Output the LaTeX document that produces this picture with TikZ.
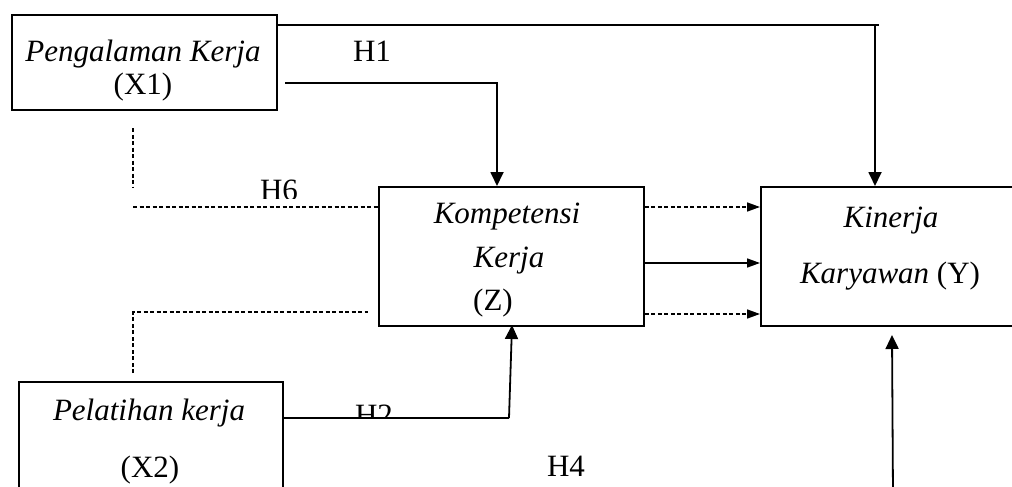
\documentclass[tikz,border=0pt]{standalone}
\usepackage{fontspec}
\setmainfont{Liberation Serif}
\usetikzlibrary{arrows.meta}
\tikzset{
  x=1pt, y=-1pt,
  box/.style={draw, line width=1.8pt, inner sep=0pt, anchor=north west},
  lbl/.style={anchor=base, inner sep=0pt, font=\fontsize{31}{36}\selectfont},
  arr/.style={line width=1.8pt, -{Triangle[length=14pt,width=13pt]}},
  sarr/.style={line width=1.6pt, -{Triangle[length=13pt,width=9pt]}},
  dsh/.style={line width=1.5pt, dash pattern=on 4pt off 2.5pt},
  conn/.style={line width=1.8pt}
}
\begin{document}
\begin{tikzpicture}
\useasboundingbox (0,0) rectangle (1012,487);
\clip (0,0) rectangle (1012,487);
% boxes
\node[box, minimum width=265pt, minimum height=95pt] (x1) at (11,14) {};
\node[box, minimum width=265pt, minimum height=139pt] (z) at (378,186) {};
\node[box, minimum width=280pt, minimum height=139pt] (y) at (760,186) {};
\node[box, minimum width=264pt, minimum height=130pt] (x2) at (18,381) {};
% box texts
\node[lbl] (t1a) at (143,62) {\itshape Pengalaman Kerja};
\node[lbl] (t1b) at (143,94) {(X1)};
\node[lbl] (tza) at (507,223) {\itshape Kompetensi};
\node[lbl] (tzb) at (509,267) {\itshape Kerja};
\node[lbl] (tzc) at (493,310) {(Z)};
\node[lbl] (tya) at (891,227) {\itshape Kinerja};
\node[lbl] (tyb) at (890,283) {\textit{Karyawan} (Y)};
\node[lbl] (t2a) at (149,420) {\itshape Pelatihan kerja};
\node[lbl] (t2b) at (150,477) {(X2)};
% hypothesis labels
\node[lbl] (h1) at (372,62) {H1};
\begin{scope}
\clip (240,150) rectangle (320,198);
\node[lbl] (h6) at (279,200) {H6};
\end{scope}
\begin{scope}
\clip (340,390) rectangle (410,417);
\node[lbl] (h2) at (374,425) {H2};
\end{scope}
\node[lbl] (h4) at (566,476) {H4};
% connectors
\coordinate (tr) at (879,25);
\coordinate (tc) at (875,25);
\draw[conn] (x1.east |- tr) -- (tr);
\draw[arr] (tc) -- (tc |- y.north);
\coordinate (h1s) at (285,83);
\coordinate (h1c) at (497,83);
\draw[arr] (h1s) -- (h1c) -- (h1c |- z.north);
\coordinate (h2c) at (509,418);
\draw[conn] (x2.east |- h2c) -- (h2c);
\draw[arr] (h2c) -- (512,325) coordinate (h2e);
\coordinate (yb) at (893,495);
\draw[arr] (yb) -- (892,335) coordinate (ybe);
% Z -> Y
\coordinate (r1) at (0,207);
\coordinate (r2) at (0,263);
\coordinate (r3) at (0,314);
\draw[sarr, dash pattern=on 4pt off 2.5pt] (z.east |- r1) -- (y.west |- r1);
\draw[sarr] (z.east |- r2) -- (y.west |- r2);
\draw[sarr, dash pattern=on 4pt off 2.5pt] (z.east |- r3) -- (y.west |- r3);
% dashed correlations
\coordinate (d1a) at (133,128);
\coordinate (d1b) at (133,187);
\draw[dsh] (d1a) -- (d1b);
\coordinate (d2) at (133,207);
\draw[dsh] (d2) -- (z.west |- d2);
\coordinate (d3a) at (133,373);
\coordinate (d3b) at (133,312);
\coordinate (d3c) at (368,312);
\draw[dsh] (d3a) -- (d3b) -- (d3c);
\end{tikzpicture}
\end{document}
